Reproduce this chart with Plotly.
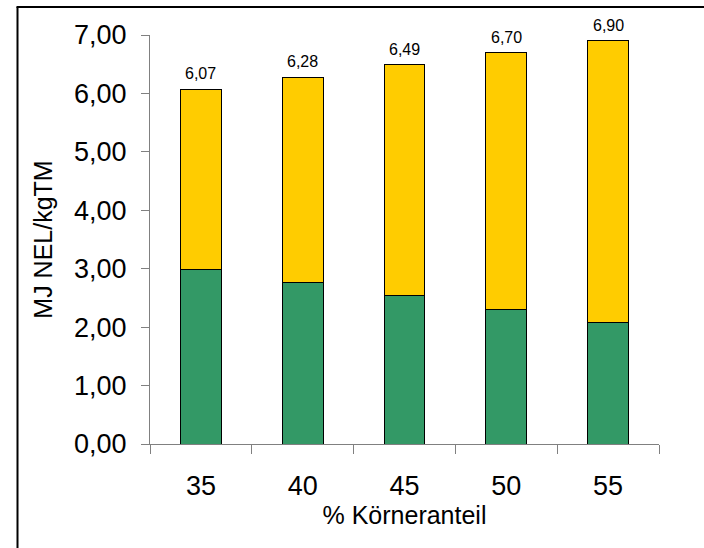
import plotly.graph_objects as go

categories = ["35", "40", "45", "50", "55"]
green_vals = [2.98, 2.76, 2.54, 2.30, 2.08]
yellow_vals = [3.09, 3.52, 3.95, 4.40, 4.82]
y_ticks = [0, 1, 2, 3, 4, 5, 6, 7]

totals = [round(g + y, 2) for g, y in zip(green_vals, yellow_vals)]
labels = [f"{t:.2f}".replace(".", ",") for t in totals]

FONT = "Liberation Sans, Arial, sans-serif"

fig = go.Figure()
fig.add_trace(go.Bar(x=categories, y=green_vals, marker=dict(color="#339966", line=dict(color="black", width=1)),
                     width=0.4, showlegend=False, hoverinfo="skip"))
fig.add_trace(go.Bar(x=categories, y=yellow_vals, marker=dict(color="#FFCC00", line=dict(color="black", width=1)),
                     width=0.4, showlegend=False, hoverinfo="skip"))

annotations = [
    dict(x=i, y=t, xref="x", yref="y", text=lab, showarrow=False, yanchor="bottom", yshift=5,
         font=dict(family=FONT, size=16, color="black"))
    for i, (t, lab) in enumerate(zip(totals, labels))
]

L, R, T, B = 150, 45, 35, 104
PW, PH = 704 - L - R, 548 - T - B

def px_x(p):
    return (p - L) / PW

def px_y(p):
    return (548 - B - p) / PH

fig.update_layout(
    width=704, height=548,
    barmode="stack",
    separators=",.",
    paper_bgcolor="white", plot_bgcolor="white",
    margin=dict(l=L, r=R, t=T, b=B, autoexpand=False),
    font=dict(family=FONT, color="black"),
    annotations=annotations,
    shapes=[
        dict(type="line", xref="paper", yref="paper",
             x0=px_x(17.5), x1=px_x(17.5), y0=px_y(560), y1=px_y(7),
             line=dict(color="black", width=2)),
        dict(type="line", xref="paper", yref="paper",
             x0=px_x(16.5), x1=px_x(716), y0=px_y(7), y1=px_y(7),
             line=dict(color="black", width=2)),
    ],
)
fig.update_xaxes(
    type="category", range=[-0.5, 4.5], automargin=False,
    showline=True, linecolor="#808080", linewidth=1,
    ticks="outside", tickson="boundaries", ticklen=9, tickcolor="#808080",
    tickfont=dict(family=FONT, size=27, color="black"), ticklabelstandoff=18,
    showgrid=False, zeroline=False,
    title=dict(text="% Körneranteil", font=dict(family=FONT, size=25, color="black"), standoff=2),
)
fig.update_yaxes(
    range=[0, 7], tickvals=y_ticks, tickformat=".2f", automargin=False,
    showline=True, linecolor="#808080", linewidth=1,
    ticks="outside", ticklen=8, tickcolor="#808080",
    tickfont=dict(family=FONT, size=27, color="black"), ticklabelstandoff=9,
    showgrid=False, zeroline=False,
    title=dict(text="MJ NEL/kgTM", font=dict(family=FONT, size=25, color="black"), standoff=14),
)

fig.write_html("out.html", config={"displayModeBar": False},
               post_script="document.body.style.margin='0';document.body.style.overflow='hidden';")
